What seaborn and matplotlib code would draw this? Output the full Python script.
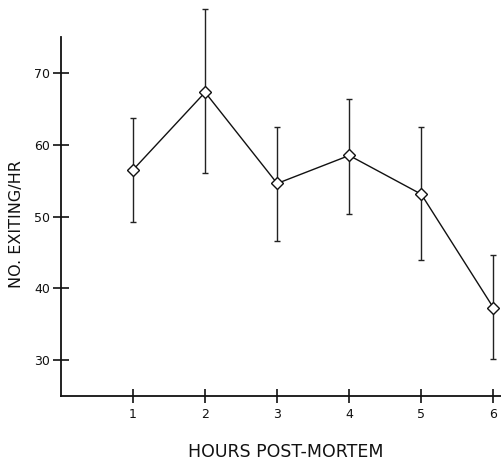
import matplotlib
matplotlib.use("Agg")
import matplotlib.pyplot as plt
import seaborn as sns
import pandas as pd
import numpy as np

hours = [1, 2, 3, 4, 5, 6]
mean_exiting = [56.5, 67.3, 54.6, 58.5, 53.1, 37.3]
lower_bound = [49.2, 56.0, 46.6, 50.4, 43.9, 30.1]
upper_bound = [63.7, 78.9, 62.4, 66.4, 62.4, 44.6]
y_ticks = [30, 40, 50, 60, 70]
x_ticks = [1, 2, 3, 4, 5, 6]

sns.set_style("ticks")
plt.rcParams['font.family'] = ['DejaVu Sans']

df = pd.DataFrame({"hours": hours, "mean": mean_exiting})

fig = plt.figure(figsize=(5.02, 4.63), dpi=100)
ax = fig.add_axes([61/502, 67/463, 1 - 61/502, (396-37)/463])

yerr = np.array([np.array(mean_exiting) - np.array(lower_bound),
                 np.array(upper_bound) - np.array(mean_exiting)])
ax.errorbar(hours, mean_exiting, yerr=yerr, fmt='none', ecolor='#222222',
            elinewidth=1.0, capsize=2, capthick=1.0, clip_on=False, zorder=2)
sns.lineplot(data=df, x="hours", y="mean", ax=ax, color='#111111', linewidth=1.0,
             marker='D', markersize=6, markerfacecolor='white',
             markeredgecolor='#111111', markeredgewidth=1.0, clip_on=False, zorder=3)

ax.set_xlim(0, 6.12)
ax.set_ylim(25, 75)
ax.set_xticks(x_ticks)
ax.set_xticklabels([str(v) for v in x_ticks])
ax.set_yticks(y_ticks)
ax.set_yticklabels([str(v) for v in y_ticks])

for s in ['top', 'right']:
    ax.spines[s].set_visible(False)
for s in ['left', 'bottom']:
    ax.spines[s].set_linewidth(1.3)
    ax.spines[s].set_color('#111111')

ax.tick_params(axis='both', direction='inout', length=12, width=1.2, colors='#111111',
               labelsize=9, pad=2)
ax.tick_params(axis='x', length=10, pad=4)

ax.set_xlabel("HOURS POST-MORTEM", fontsize=12.5, color='#111111', va='center')
ax.xaxis.set_label_coords(0.51, -0.156)
ax.set_ylabel("NO. EXITING/HR", fontsize=11.5, color='#111111', va='center')
ax.yaxis.set_label_coords(-0.10, 0.48)

fig.savefig("out.png", dpi=100)
